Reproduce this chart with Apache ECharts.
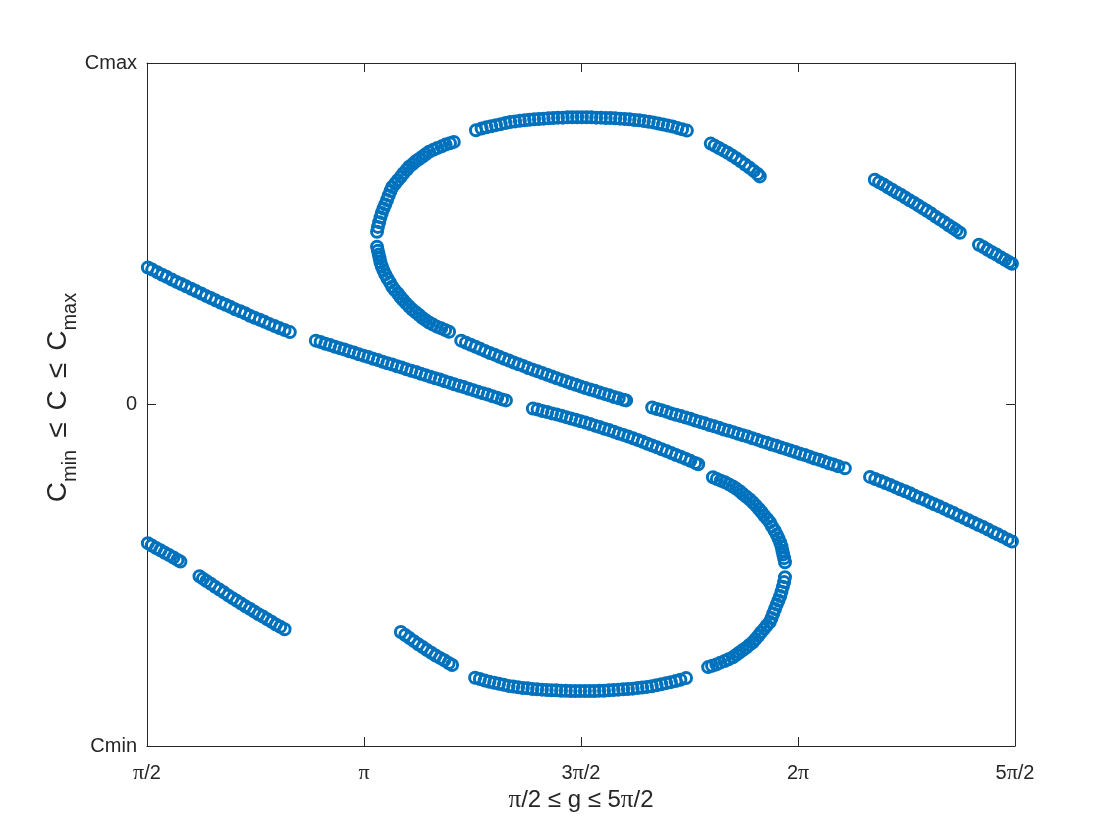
<!DOCTYPE html>
<html>
<head>
<meta charset="utf-8">
<title>C against g</title>
<script src="https://cdn.jsdelivr.net/npm/echarts@6.0.0/dist/echarts.min.js"></script>
<style>
    html, body { margin: 0; padding: 0; background: #fff; }
    #chart { width: 1120px; height: 840px; }
</style>
</head>
<body>
<div id="chart"></div>
<script>
    // g kept in units of pi, C scaled so Cmin = -1 and Cmax = 1
    var xTickLabels = ['π/2', 'π', '3π/2', '2π', '5π/2'];
    var yTickLabels = ['Cmin', '0', 'Cmax'];

    // straight-ish branches, left part
    var lineUpperLeftA = [[0.502,0.401],[0.512,0.395],[0.524,0.387],[0.535,0.380],[0.545,0.374],[0.557,0.366],[0.568,0.359],[0.579,0.353],[0.590,0.346],[0.602,0.339],[0.613,0.332],[0.625,0.325],[0.636,0.318],[0.647,0.312],[0.658,0.305],[0.670,0.298],[0.681,0.292],[0.692,0.286],[0.703,0.279],[0.715,0.273],[0.726,0.267],[0.737,0.260],[0.748,0.254],[0.760,0.248],[0.771,0.242],[0.782,0.236],[0.794,0.230],[0.805,0.224],[0.817,0.218],[0.829,0.212]];
    var lineUpperLeftB = [[0.889,0.187],[0.900,0.183],[0.911,0.178],[0.922,0.174],[0.933,0.169],[0.944,0.165],[0.955,0.161],[0.966,0.156],[0.977,0.152],[0.988,0.147],[0.999,0.143],[1.010,0.139],[1.021,0.134],[1.032,0.130],[1.043,0.125],[1.054,0.121],[1.065,0.117],[1.076,0.112],[1.087,0.108],[1.098,0.103],[1.109,0.099],[1.120,0.095],[1.131,0.090],[1.142,0.086],[1.153,0.081],[1.164,0.077],[1.175,0.073],[1.186,0.068],[1.197,0.064],[1.208,0.059],[1.219,0.055],[1.230,0.051],[1.241,0.046],[1.252,0.042],[1.263,0.037],[1.274,0.033],[1.285,0.029],[1.296,0.024],[1.307,0.020],[1.318,0.015],[1.327,0.012]];
    var lineUpperLeftC = [[1.389,-0.012],[1.400,-0.015],[1.411,-0.019],[1.422,-0.022],[1.433,-0.026],[1.444,-0.029],[1.455,-0.033],[1.466,-0.037],[1.477,-0.041],[1.488,-0.045],[1.499,-0.049],[1.510,-0.053],[1.521,-0.057],[1.532,-0.062],[1.543,-0.066],[1.554,-0.071],[1.565,-0.075],[1.576,-0.080],[1.587,-0.085],[1.598,-0.089],[1.609,-0.094],[1.620,-0.099],[1.631,-0.104],[1.642,-0.109],[1.653,-0.115],[1.664,-0.120],[1.675,-0.125],[1.686,-0.131],[1.697,-0.136],[1.708,-0.142],[1.719,-0.148],[1.730,-0.153],[1.741,-0.159],[1.752,-0.165],[1.763,-0.171],[1.770,-0.175]];
    var lineLowerLeftA = [[0.502,-0.406],[0.511,-0.413],[0.521,-0.420],[0.531,-0.427],[0.541,-0.434],[0.551,-0.441],[0.561,-0.448],[0.570,-0.455],[0.577,-0.460]];
    var lineLowerLeftB = [[0.621,-0.503],[0.629,-0.510],[0.637,-0.517],[0.647,-0.525],[0.657,-0.534],[0.667,-0.542],[0.677,-0.550],[0.687,-0.559],[0.697,-0.567],[0.707,-0.575],[0.717,-0.583],[0.727,-0.591],[0.737,-0.598],[0.747,-0.606],[0.757,-0.614],[0.767,-0.621],[0.777,-0.629],[0.787,-0.636],[0.797,-0.644],[0.807,-0.651],[0.817,-0.658]];

    // straight-ish branches, right part
    var lineMiddle = [[1.224,0.187],[1.235,0.181],[1.246,0.175],[1.257,0.169],[1.268,0.163],[1.279,0.157],[1.290,0.151],[1.301,0.146],[1.312,0.140],[1.323,0.134],[1.334,0.129],[1.345,0.123],[1.356,0.118],[1.367,0.113],[1.378,0.107],[1.389,0.102],[1.400,0.097],[1.411,0.092],[1.422,0.087],[1.433,0.082],[1.444,0.077],[1.455,0.072],[1.466,0.067],[1.477,0.062],[1.488,0.058],[1.499,0.053],[1.510,0.048],[1.521,0.044],[1.532,0.040],[1.543,0.035],[1.554,0.031],[1.565,0.027],[1.576,0.022],[1.587,0.018],[1.598,0.014],[1.604,0.012]];
    var lineLowerRightA = [[1.664,-0.009],[1.675,-0.013],[1.686,-0.017],[1.697,-0.021],[1.708,-0.026],[1.719,-0.030],[1.730,-0.034],[1.741,-0.038],[1.752,-0.042],[1.763,-0.047],[1.774,-0.051],[1.785,-0.055],[1.796,-0.060],[1.807,-0.064],[1.818,-0.068],[1.829,-0.073],[1.840,-0.077],[1.851,-0.081],[1.862,-0.086],[1.873,-0.090],[1.884,-0.094],[1.895,-0.099],[1.906,-0.103],[1.917,-0.108],[1.928,-0.112],[1.939,-0.117],[1.950,-0.121],[1.961,-0.126],[1.972,-0.130],[1.983,-0.135],[1.994,-0.139],[2.005,-0.144],[2.016,-0.148],[2.027,-0.153],[2.038,-0.158],[2.049,-0.162],[2.060,-0.167],[2.071,-0.172],[2.082,-0.176],[2.093,-0.181],[2.108,-0.187]];
    var lineLowerRightB = [[2.166,-0.212],[2.178,-0.218],[2.190,-0.224],[2.201,-0.230],[2.213,-0.236],[2.224,-0.242],[2.235,-0.248],[2.247,-0.254],[2.258,-0.260],[2.269,-0.267],[2.280,-0.273],[2.292,-0.279],[2.303,-0.286],[2.314,-0.292],[2.325,-0.298],[2.337,-0.305],[2.348,-0.312],[2.359,-0.318],[2.370,-0.325],[2.382,-0.332],[2.393,-0.339],[2.405,-0.346],[2.416,-0.353],[2.427,-0.359],[2.438,-0.366],[2.450,-0.374],[2.460,-0.380],[2.471,-0.387],[2.483,-0.395],[2.493,-0.401]];
    var lineUpperRightA = [[2.177,0.658],[2.187,0.651],[2.197,0.644],[2.207,0.636],[2.217,0.629],[2.227,0.621],[2.237,0.614],[2.247,0.606],[2.257,0.598],[2.267,0.591],[2.277,0.583],[2.287,0.575],[2.297,0.567],[2.307,0.559],[2.317,0.550],[2.327,0.542],[2.337,0.534],[2.347,0.525],[2.357,0.517],[2.365,0.510],[2.373,0.503]];
    var lineUpperRightB = [[2.417,0.468],[2.427,0.461],[2.437,0.453],[2.447,0.446],[2.457,0.439],[2.467,0.431],[2.477,0.424],[2.486,0.417],[2.493,0.412]];

    // the S
    var sTopLeftUpper = [[1.030,0.506],[1.032,0.520],[1.035,0.534],[1.038,0.548],[1.041,0.561],[1.045,0.574],[1.049,0.586],[1.053,0.599],[1.057,0.612],[1.061,0.625],[1.065,0.637],[1.072,0.647],[1.078,0.657],[1.085,0.667],[1.091,0.677],[1.098,0.687],[1.104,0.696],[1.112,0.704],[1.119,0.712],[1.127,0.719],[1.135,0.726],[1.142,0.733],[1.150,0.740],[1.160,0.746],[1.169,0.751],[1.179,0.756],[1.188,0.761],[1.198,0.765],[1.207,0.769]];
    var sTopLeftLower = [[1.030,0.462],[1.032,0.450],[1.034,0.439],[1.036,0.428],[1.038,0.416],[1.041,0.404],[1.045,0.392],[1.049,0.381],[1.054,0.369],[1.060,0.357],[1.065,0.345],[1.071,0.335],[1.078,0.325],[1.084,0.315],[1.090,0.306],[1.097,0.296],[1.104,0.287],[1.111,0.278],[1.119,0.270],[1.127,0.262],[1.134,0.254],[1.142,0.247],[1.150,0.240],[1.159,0.234],[1.168,0.228],[1.178,0.223],[1.187,0.218],[1.196,0.213]];
    var sTopArc = [[1.258,0.803],[1.271,0.808],[1.282,0.812],[1.293,0.815],[1.304,0.818],[1.315,0.821],[1.326,0.824],[1.337,0.827],[1.348,0.829],[1.359,0.831],[1.370,0.832],[1.381,0.834],[1.392,0.835],[1.403,0.836],[1.414,0.837],[1.425,0.838],[1.436,0.839],[1.447,0.840],[1.458,0.840],[1.469,0.841],[1.480,0.841],[1.491,0.841],[1.502,0.841],[1.513,0.841],[1.524,0.841],[1.535,0.840],[1.546,0.840],[1.557,0.839],[1.568,0.839],[1.579,0.838],[1.590,0.837],[1.601,0.836],[1.612,0.835],[1.623,0.833],[1.634,0.832],[1.645,0.830],[1.656,0.828],[1.667,0.826],[1.678,0.823],[1.689,0.820],[1.700,0.817],[1.711,0.814],[1.722,0.810],[1.733,0.806],[1.744,0.802]];
    var sTopRight = [[1.799,0.764],[1.808,0.758],[1.818,0.751],[1.828,0.744],[1.838,0.737],[1.848,0.729],[1.858,0.721],[1.868,0.712],[1.878,0.703],[1.888,0.694],[1.898,0.684],[1.907,0.675],[1.912,0.668]];
    var sBottomLeft = [[1.085,-0.666],[1.095,-0.675],[1.105,-0.684],[1.115,-0.693],[1.125,-0.702],[1.135,-0.710],[1.145,-0.719],[1.155,-0.727],[1.165,-0.735],[1.175,-0.742],[1.185,-0.749],[1.195,-0.757],[1.203,-0.763]];
    var sBottomArc = [[1.256,-0.800],[1.267,-0.804],[1.278,-0.808],[1.289,-0.812],[1.300,-0.815],[1.311,-0.818],[1.322,-0.821],[1.333,-0.824],[1.344,-0.826],[1.355,-0.828],[1.366,-0.830],[1.377,-0.831],[1.388,-0.833],[1.399,-0.834],[1.410,-0.835],[1.421,-0.836],[1.432,-0.837],[1.443,-0.837],[1.454,-0.838],[1.465,-0.838],[1.476,-0.839],[1.487,-0.839],[1.498,-0.839],[1.509,-0.839],[1.520,-0.839],[1.531,-0.839],[1.542,-0.838],[1.553,-0.838],[1.564,-0.837],[1.575,-0.836],[1.586,-0.835],[1.597,-0.834],[1.608,-0.833],[1.619,-0.832],[1.630,-0.830],[1.641,-0.829],[1.652,-0.827],[1.663,-0.825],[1.674,-0.822],[1.685,-0.819],[1.696,-0.816],[1.707,-0.813],[1.718,-0.810],[1.729,-0.806],[1.742,-0.801]];
    var sBottomRightLower = [[1.970,-0.506],[1.968,-0.520],[1.965,-0.534],[1.962,-0.548],[1.959,-0.561],[1.955,-0.574],[1.951,-0.586],[1.947,-0.599],[1.943,-0.612],[1.939,-0.625],[1.935,-0.637],[1.928,-0.647],[1.922,-0.657],[1.915,-0.667],[1.909,-0.677],[1.902,-0.687],[1.896,-0.696],[1.888,-0.704],[1.881,-0.712],[1.873,-0.719],[1.865,-0.726],[1.858,-0.733],[1.850,-0.740],[1.840,-0.746],[1.831,-0.751],[1.821,-0.756],[1.812,-0.761],[1.802,-0.765],[1.793,-0.769]];
    var sBottomRightUpper = [[1.804,-0.213],[1.813,-0.218],[1.822,-0.223],[1.832,-0.228],[1.841,-0.234],[1.850,-0.240],[1.858,-0.247],[1.866,-0.254],[1.873,-0.262],[1.881,-0.270],[1.889,-0.278],[1.896,-0.287],[1.903,-0.296],[1.910,-0.306],[1.916,-0.315],[1.922,-0.325],[1.929,-0.335],[1.935,-0.345],[1.940,-0.357],[1.946,-0.369],[1.951,-0.381],[1.955,-0.392],[1.959,-0.404],[1.962,-0.416],[1.964,-0.428],[1.966,-0.439],[1.968,-0.450],[1.970,-0.462]];

    var branches = [
        lineUpperLeftA, lineUpperLeftB, lineUpperLeftC, lineLowerLeftA, lineLowerLeftB,
        lineMiddle, lineLowerRightA, lineLowerRightB, lineUpperRightA, lineUpperRightB,
        sTopLeftUpper, sTopLeftLower, sTopArc, sTopRight,
        sBottomLeft, sBottomArc, sBottomRightLower, sBottomRightUpper
    ];
    var points = [];
    branches.forEach(function (b) { points = points.concat(b); });

    var ink = '#262626';
    var font = '"Liberation Sans", Arial, sans-serif';
    var serif = '"Liberation Serif", serif';

    var myChart = echarts.init(document.getElementById('chart'));
    var option = {
        animation: false,
        backgroundColor: '#fff',
        grid: { left: 147, right: 105, top: 63, bottom: 94, containLabel: false, outerBoundsMode: 'none' },
        xAxis: [{
            type: 'value', min: 0.5, max: 2.5, interval: 0.5,
            position: 'bottom',
            splitLine: { show: false },
            axisLine: { show: true, onZero: false, lineStyle: { color: ink, width: 1 } },
            axisTick: { show: true, inside: true, length: 9, lineStyle: { color: ink, width: 1 } },
            axisLabel: {
                color: ink, fontSize: 20, fontFamily: font, margin: 16,
                formatter: function (v) {
                    var s = xTickLabels[Math.round((v - 0.5) / 0.5)] || '';
                    return s.replace('π', '{pi|π}');
                },
                rich: { pi: { fontSize: 22, fontFamily: serif, color: ink } }
            },
            name: '{pi|π}/2 ≤ g ≤ 5{pi|π}/2',
            nameLocation: 'middle', nameGap: 42, nameMoveOverlap: false,
            nameTextStyle: {
                color: ink, fontSize: 24, fontFamily: font,
                rich: { pi: { fontSize: 25, fontFamily: serif, color: ink } }
            }
        }, {
            type: 'value', min: 0.5, max: 2.5, interval: 0.5,
            position: 'top',
            splitLine: { show: false },
            axisLine: { show: true, onZero: false, lineStyle: { color: ink, width: 1 } },
            axisTick: { show: true, inside: true, length: 9, lineStyle: { color: ink, width: 1 } },
            axisLabel: { show: false }
        }],
        yAxis: [{
            type: 'value', min: -1, max: 1, interval: 1,
            position: 'left',
            splitLine: { show: false },
            axisLine: { show: true, onZero: false, lineStyle: { color: ink, width: 1 } },
            axisTick: { show: true, inside: true, length: 9, lineStyle: { color: ink, width: 1 } },
            axisLabel: {
                color: ink, fontSize: 20, fontFamily: font, margin: 10,
                formatter: function (v) { return yTickLabels[Math.round(v) + 1]; }
            },
            name: 'C{sub|min}{rel|≤}C{rel|≤}C{sub|max}',
            nameLocation: 'middle', nameGap: 67, nameMoveOverlap: false,
            nameTextStyle: {
                color: ink, fontSize: 28, fontFamily: font,
                padding: [0, 0, 0, 14],
                rich: {
                    sub: { fontSize: 20, fontFamily: font, color: ink, padding: [24, 0, 0, 0] },
                    rel: { fontSize: 28, fontFamily: font, color: ink, padding: [0, 12, 0, 12] }
                }
            }
        }, {
            type: 'value', min: -1, max: 1, interval: 1,
            position: 'right',
            splitLine: { show: false },
            axisLine: { show: true, onZero: false, lineStyle: { color: ink, width: 1 } },
            axisTick: { show: true, inside: true, length: 9, lineStyle: { color: ink, width: 1 } },
            axisLabel: { show: false }
        }],
        series: [{
            type: 'scatter',
            xAxisIndex: 0, yAxisIndex: 0,
            symbol: 'circle',
            symbolSize: 11,
            itemStyle: { color: 'rgba(0,0,0,0)', borderColor: '#0072BD', borderWidth: 3, opacity: 1 },
            data: points
        }]
    };
    myChart.setOption(option);
</script>
</body>
</html>
